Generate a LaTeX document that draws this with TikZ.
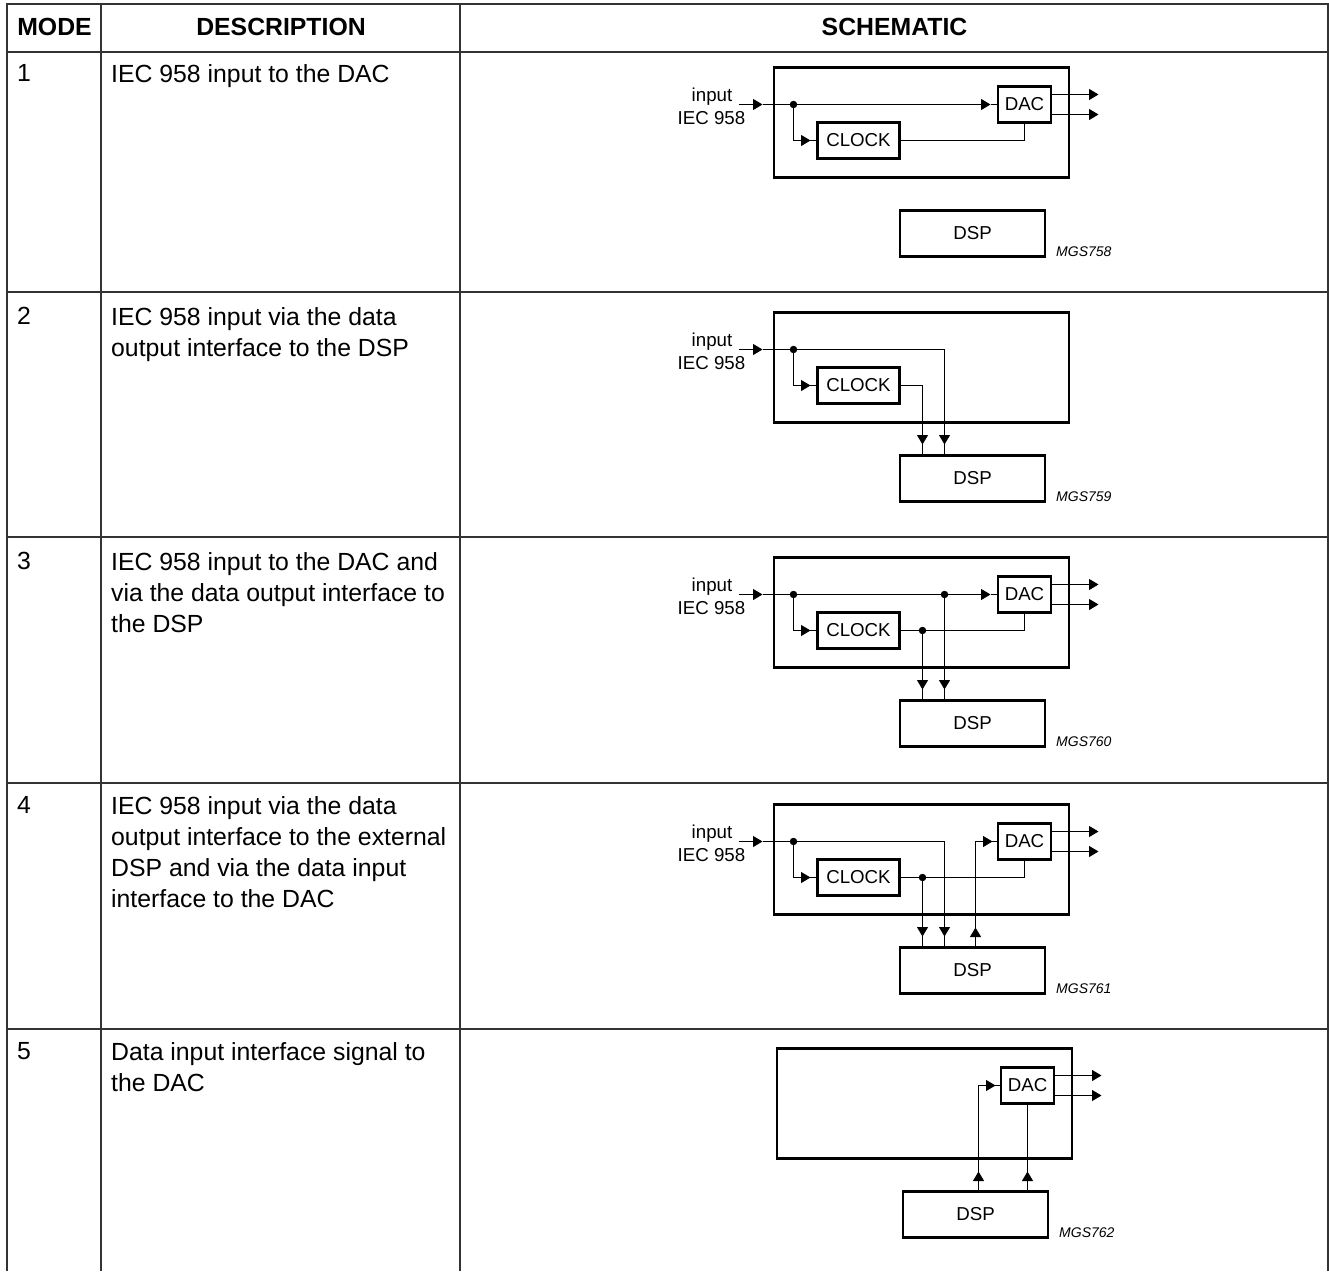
\documentclass[tikz,border=0pt]{standalone}
\usepackage{fontspec}
\setmainfont{Liberation Sans}
\usetikzlibrary{arrows.meta}
\tikzset{
  x=1pt,y=-1pt,
  grid/.style={line width=1.5pt,draw=black!80},
  wire/.style={line width=1.05pt,draw=black},
  arrowed/.style={wire,-{Triangle[length=9.5pt,width=11pt]}},
  outer/.style={draw,line width=2.5pt,minimum width=295pt,minimum height=110pt,inner sep=0pt},
  block/.style={draw,line width=2.5pt,inner sep=0pt,font=\fontsize{18.7}{20}\selectfont},
  dacbox/.style={block,minimum width=53pt,minimum height=36pt},
  clockbox/.style={block,minimum width=82pt,minimum height=36pt},
  dspbox/.style={block,minimum width=145pt,minimum height=46pt},
  lbl/.style={font=\fontsize{18.7}{20}\selectfont,inner sep=0pt},
  code/.style={font=\fontsize{14}{16}\itshape\selectfont,inner sep=0pt,anchor=west},
  dot/.style={circle,fill=black,inner sep=0pt,minimum size=7.5pt},
  head/.style={font=\fontsize{24.8}{28}\bfseries\selectfont,inner sep=0pt},
  cell/.style={font=\fontsize{24.8}{31}\selectfont,inner sep=0pt,anchor=north west,align=left}
}
% common blocks of one schematic
\newcommand{\mainblocks}{%
  \node[outer] (chip) at (921,122) {};
  \node[dacbox] (dac) at (1024,104) {DAC};
  \coordinate (o1) at (1098,94);
  \coordinate (o2) at (1098,114);
  \draw[arrowed] (dac.east |- o1) -- (o1);
  \draw[arrowed] (dac.east |- o2) -- (o2);
}
\newcommand{\dspblock}{\node[dspbox] (dsp) at (972,233) {DSP};}
\newcommand{\inputpart}{%
  \node[clockbox] (clock) at (858,140) {CLOCK};
  \node[lbl] (inlabel) at (711.5,96.5) {input};
  \node[lbl] (ieclabel) at (711,118) {IEC 958};
  \coordinate (instart) at (738,104);
  \coordinate (intip) at (762,104);
  \node[dot] (split) at (793,104) {};
  \coordinate (clktip) at (810,140);
  \draw[arrowed] (instart) -- (intip);
  \draw[wire] (intip) -- (split);
  \draw[wire] (split) |- (clock.west);
  \draw[arrowed] (split |- clock) -- (clktip);
}
\begin{document}
\begin{tikzpicture}
\useasboundingbox (0,0) rectangle (1329,1271);
% table grid
\draw[grid] (7,4) -- (1328,4);
\draw[grid] (7,52) -- (1328,52);
\foreach \yy in {292,537,783,1029} \draw[grid] (7,\yy) -- (1328,\yy);
\foreach \xx in {7,101,460,1328} \draw[grid] (\xx,3) -- (\xx,1271);
% headers
\node[head] (hmode) at (54.5,27) {MODE};
\node[head] (hdesc) at (281,27) {DESCRIPTION};
\node[head] (hsche) at (894.5,27) {SCHEMATIC};
% cells
\node[cell] (m1) at (17,64) {1};
\node[cell] (d1) at (111,64) {IEC 958 input to the DAC};
\node[cell] (m2) at (17,307) {2};
\node[cell] (d2) at (111,307) {IEC 958 input via the data\\output interface to the DSP};
\node[cell] (m3) at (17,552) {3};
\node[cell] (d3) at (111,552) {IEC 958 input to the DAC and\\via the data output interface to\\the DSP};
\node[cell] (m4) at (17,796) {4};
\node[cell] (d4) at (111,796) {IEC 958 input via the data\\output interface to the external\\DSP and via the data input\\interface to the DAC};
\node[cell] (m5) at (17,1042) {5};
\node[cell] (d5) at (111,1042) {Data input interface signal to\\the DAC};
% mode 1
\begin{scope}[xshift=0.5pt,yshift=-0.5pt]
  \mainblocks \inputpart \dspblock
  \coordinate (dactip) at (990,104);
  \draw[arrowed] (split) -- (dactip);
  \draw[wire] (dactip) -- (dac.west);
  \draw[wire] (clock.east) -| (dac.south);
  \node[code] (c1) at (1055.5,251) {MGS758};
\end{scope}
% mode 2
\begin{scope}[xshift=0.5pt,yshift=-245.5pt]
  \node[outer] (chip) at (921,122) {};
  \inputpart \dspblock
  \coordinate (ctip) at (922,199);
  \coordinate (dtip) at (944,199);
  \draw[wire] (clock.east) -| (dsp.north -| ctip);
  \draw[arrowed] (ctip |- clock) -- (ctip);
  \draw[wire] (split) -| (dsp.north -| dtip);
  \draw[arrowed] (dtip |- split) -- (dtip);
  \node[code] (c2) at (1055.5,251) {MGS759};
\end{scope}
% mode 3
\begin{scope}[xshift=0.5pt,yshift=-490.5pt]
  \mainblocks \inputpart \dspblock
  \node[dot] (dj) at (944,104) {};
  \node[dot] (cj) at (922,140) {};
  \coordinate (dactip) at (990,104);
  \coordinate (ctip) at (922,199);
  \coordinate (dtip) at (944,199);
  \draw[arrowed] (split) -- (dactip);
  \draw[wire] (dactip) -- (dac.west);
  \draw[wire] (clock.east) -| (dac.south);
  \draw[wire] (cj) -- (dsp.north -| cj);
  \draw[arrowed] (cj) -- (ctip);
  \draw[wire] (dj) -- (dsp.north -| dj);
  \draw[arrowed] (dj) -- (dtip);
  \node[code] (c3) at (1055.5,251) {MGS760};
\end{scope}
% mode 4
\begin{scope}[xshift=0.5pt,yshift=-737.5pt]
  \mainblocks \inputpart \dspblock
  \node[dot] (cj) at (922,140) {};
  \coordinate (dacin) at (975,104);
  \coordinate (dactip) at (992,104);
  \coordinate (ctip) at (922,199);
  \coordinate (dtip) at (944,199);
  \coordinate (utip) at (975,190);
  \draw[wire] (clock.east) -| (dac.south);
  \draw[wire] (cj) -- (dsp.north -| cj);
  \draw[arrowed] (cj) -- (ctip);
  \draw[wire] (split) -| (dsp.north -| dtip);
  \draw[arrowed] (dtip |- split) -- (dtip);
  \draw[wire] (dsp.north -| utip) |- (dac.west);
  \draw[arrowed] (dsp.north -| utip) -- (utip);
  \draw[arrowed] (dacin) -- (dactip);
  \node[code] (c4) at (1055.5,251) {MGS761};
\end{scope}
% mode 5
\begin{scope}[xshift=3.5pt,yshift=-981.5pt]
  \mainblocks \dspblock
  \coordinate (dacin) at (975,104);
  \coordinate (dactip) at (992,104);
  \coordinate (utip) at (975,190);
  \coordinate (vtip) at (1024,190);
  \draw[wire] (dsp.north -| utip) |- (dac.west);
  \draw[arrowed] (dsp.north -| utip) -- (utip);
  \draw[arrowed] (dacin) -- (dactip);
  \draw[wire] (dsp.north -| dac.south) -- (dac.south);
  \draw[arrowed] (dsp.north -| vtip) -- (vtip);
  \node[code] (c5) at (1055.5,251) {MGS762};
\end{scope}
\end{tikzpicture}
\end{document}
